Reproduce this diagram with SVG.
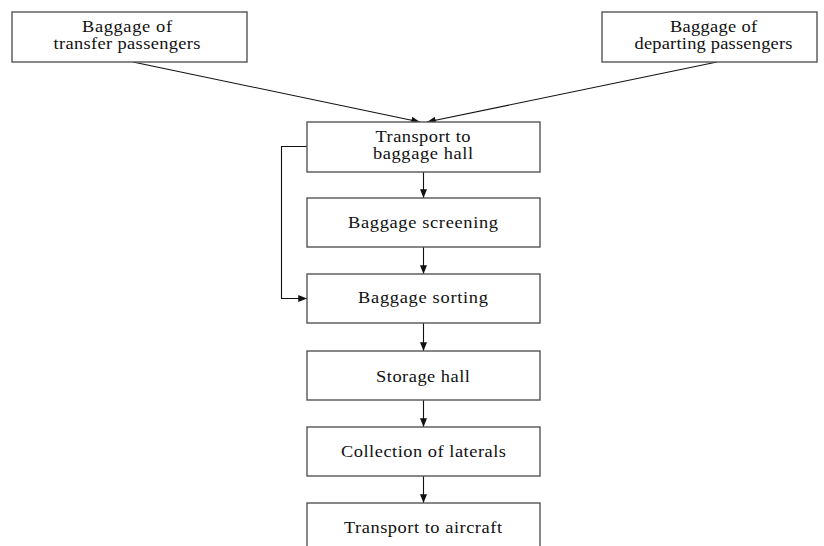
<svg xmlns="http://www.w3.org/2000/svg" width="824" height="546" viewBox="0 0 824 546">
  <style>
    .box { fill: #ffffff; stroke: #555555; stroke-width: 1.4; }
    .lbl { font-family: "Liberation Serif", "Times New Roman", serif; font-size: 16px; fill: #111111; text-anchor: middle; }
    .edge { fill: none; stroke: #111111; stroke-width: 1.1; }
  </style>
  <defs>
    <marker id="arrow" viewBox="0 0 10 8" refX="10" refY="4" markerWidth="9" markerHeight="7" markerUnits="userSpaceOnUse" orient="auto">
      <path d="M0,0 L10,4 L0,8 Z" fill="#111111"/>
    </marker>
  </defs>
  <rect width="824" height="546" fill="#ffffff"/>

  <g id="connectors">
    <line class="edge" x1="133" y1="62" x2="420" y2="122" marker-end="url(#arrow)"/>
    <line class="edge" x1="717" y1="62" x2="427" y2="122" marker-end="url(#arrow)"/>
    <line class="edge" x1="423.5" y1="172" x2="423.5" y2="198" marker-end="url(#arrow)"/>
    <line class="edge" x1="423.5" y1="247" x2="423.5" y2="274" marker-end="url(#arrow)"/>
    <line class="edge" x1="423.5" y1="323" x2="423.5" y2="351" marker-end="url(#arrow)"/>
    <line class="edge" x1="423.5" y1="400" x2="423.5" y2="427" marker-end="url(#arrow)"/>
    <line class="edge" x1="423.5" y1="476" x2="423.5" y2="503" marker-end="url(#arrow)"/>
    <polyline class="edge" points="307,146.5 281.5,146.5 281.5,298.5 307,298.5" marker-end="url(#arrow)"/>
  </g>

  <!-- labels are drawn 1.15x wide: text x/textLength are in the stretched local units -->
  <g id="transfer">
    <rect class="box" x="12" y="12" width="235" height="50"/>
    <g transform="translate(127,0) scale(1.15,1)">
      <text class="lbl" x="0" y="32" textLength="78.3" lengthAdjust="spacing">Baggage of</text>
      <text class="lbl" x="0" y="49" textLength="127.8" lengthAdjust="spacing">transfer passengers</text>
    </g>
  </g>

  <g id="departing">
    <rect class="box" x="602" y="12" width="215" height="50"/>
    <g transform="translate(713.5,0) scale(1.15,1)">
      <text class="lbl" x="0" y="32" textLength="75.7" lengthAdjust="spacing">Baggage of</text>
      <text class="lbl" x="0" y="49" textLength="137.4" lengthAdjust="spacing">departing passengers</text>
    </g>
  </g>

  <g id="transport-hall">
    <rect class="box" x="307" y="122" width="233" height="50"/>
    <g transform="translate(423,0) scale(1.15,1)">
      <text class="lbl" x="0" y="142" textLength="82.6" lengthAdjust="spacing">Transport to</text>
      <text class="lbl" x="0" y="159" textLength="87" lengthAdjust="spacing">baggage hall</text>
    </g>
  </g>

  <g id="screening">
    <rect class="box" x="307" y="198" width="233" height="49"/>
    <g transform="translate(423,0) scale(1.15,1)">
      <text class="lbl" x="0" y="228" textLength="130.4" lengthAdjust="spacing">Baggage screening</text>
    </g>
  </g>

  <g id="sorting">
    <rect class="box" x="307" y="274" width="233" height="49"/>
    <g transform="translate(423,0) scale(1.15,1)">
      <text class="lbl" x="0" y="303" textLength="113" lengthAdjust="spacing">Baggage sorting</text>
    </g>
  </g>

  <g id="storage">
    <rect class="box" x="307" y="351" width="233" height="49"/>
    <g transform="translate(423,0) scale(1.15,1)">
      <text class="lbl" x="0" y="382" textLength="81.7" lengthAdjust="spacing">Storage hall</text>
    </g>
  </g>

  <g id="laterals">
    <rect class="box" x="307" y="427" width="233" height="49"/>
    <g transform="translate(423.5,0) scale(1.15,1)">
      <text class="lbl" x="0" y="457" textLength="143.5" lengthAdjust="spacing">Collection of laterals</text>
    </g>
  </g>

  <g id="aircraft">
    <rect class="box" x="307" y="503" width="233" height="49"/>
    <g transform="translate(423,0) scale(1.15,1)">
      <text class="lbl" x="0" y="533" textLength="137.4" lengthAdjust="spacing">Transport to aircraft</text>
    </g>
  </g>
</svg>
